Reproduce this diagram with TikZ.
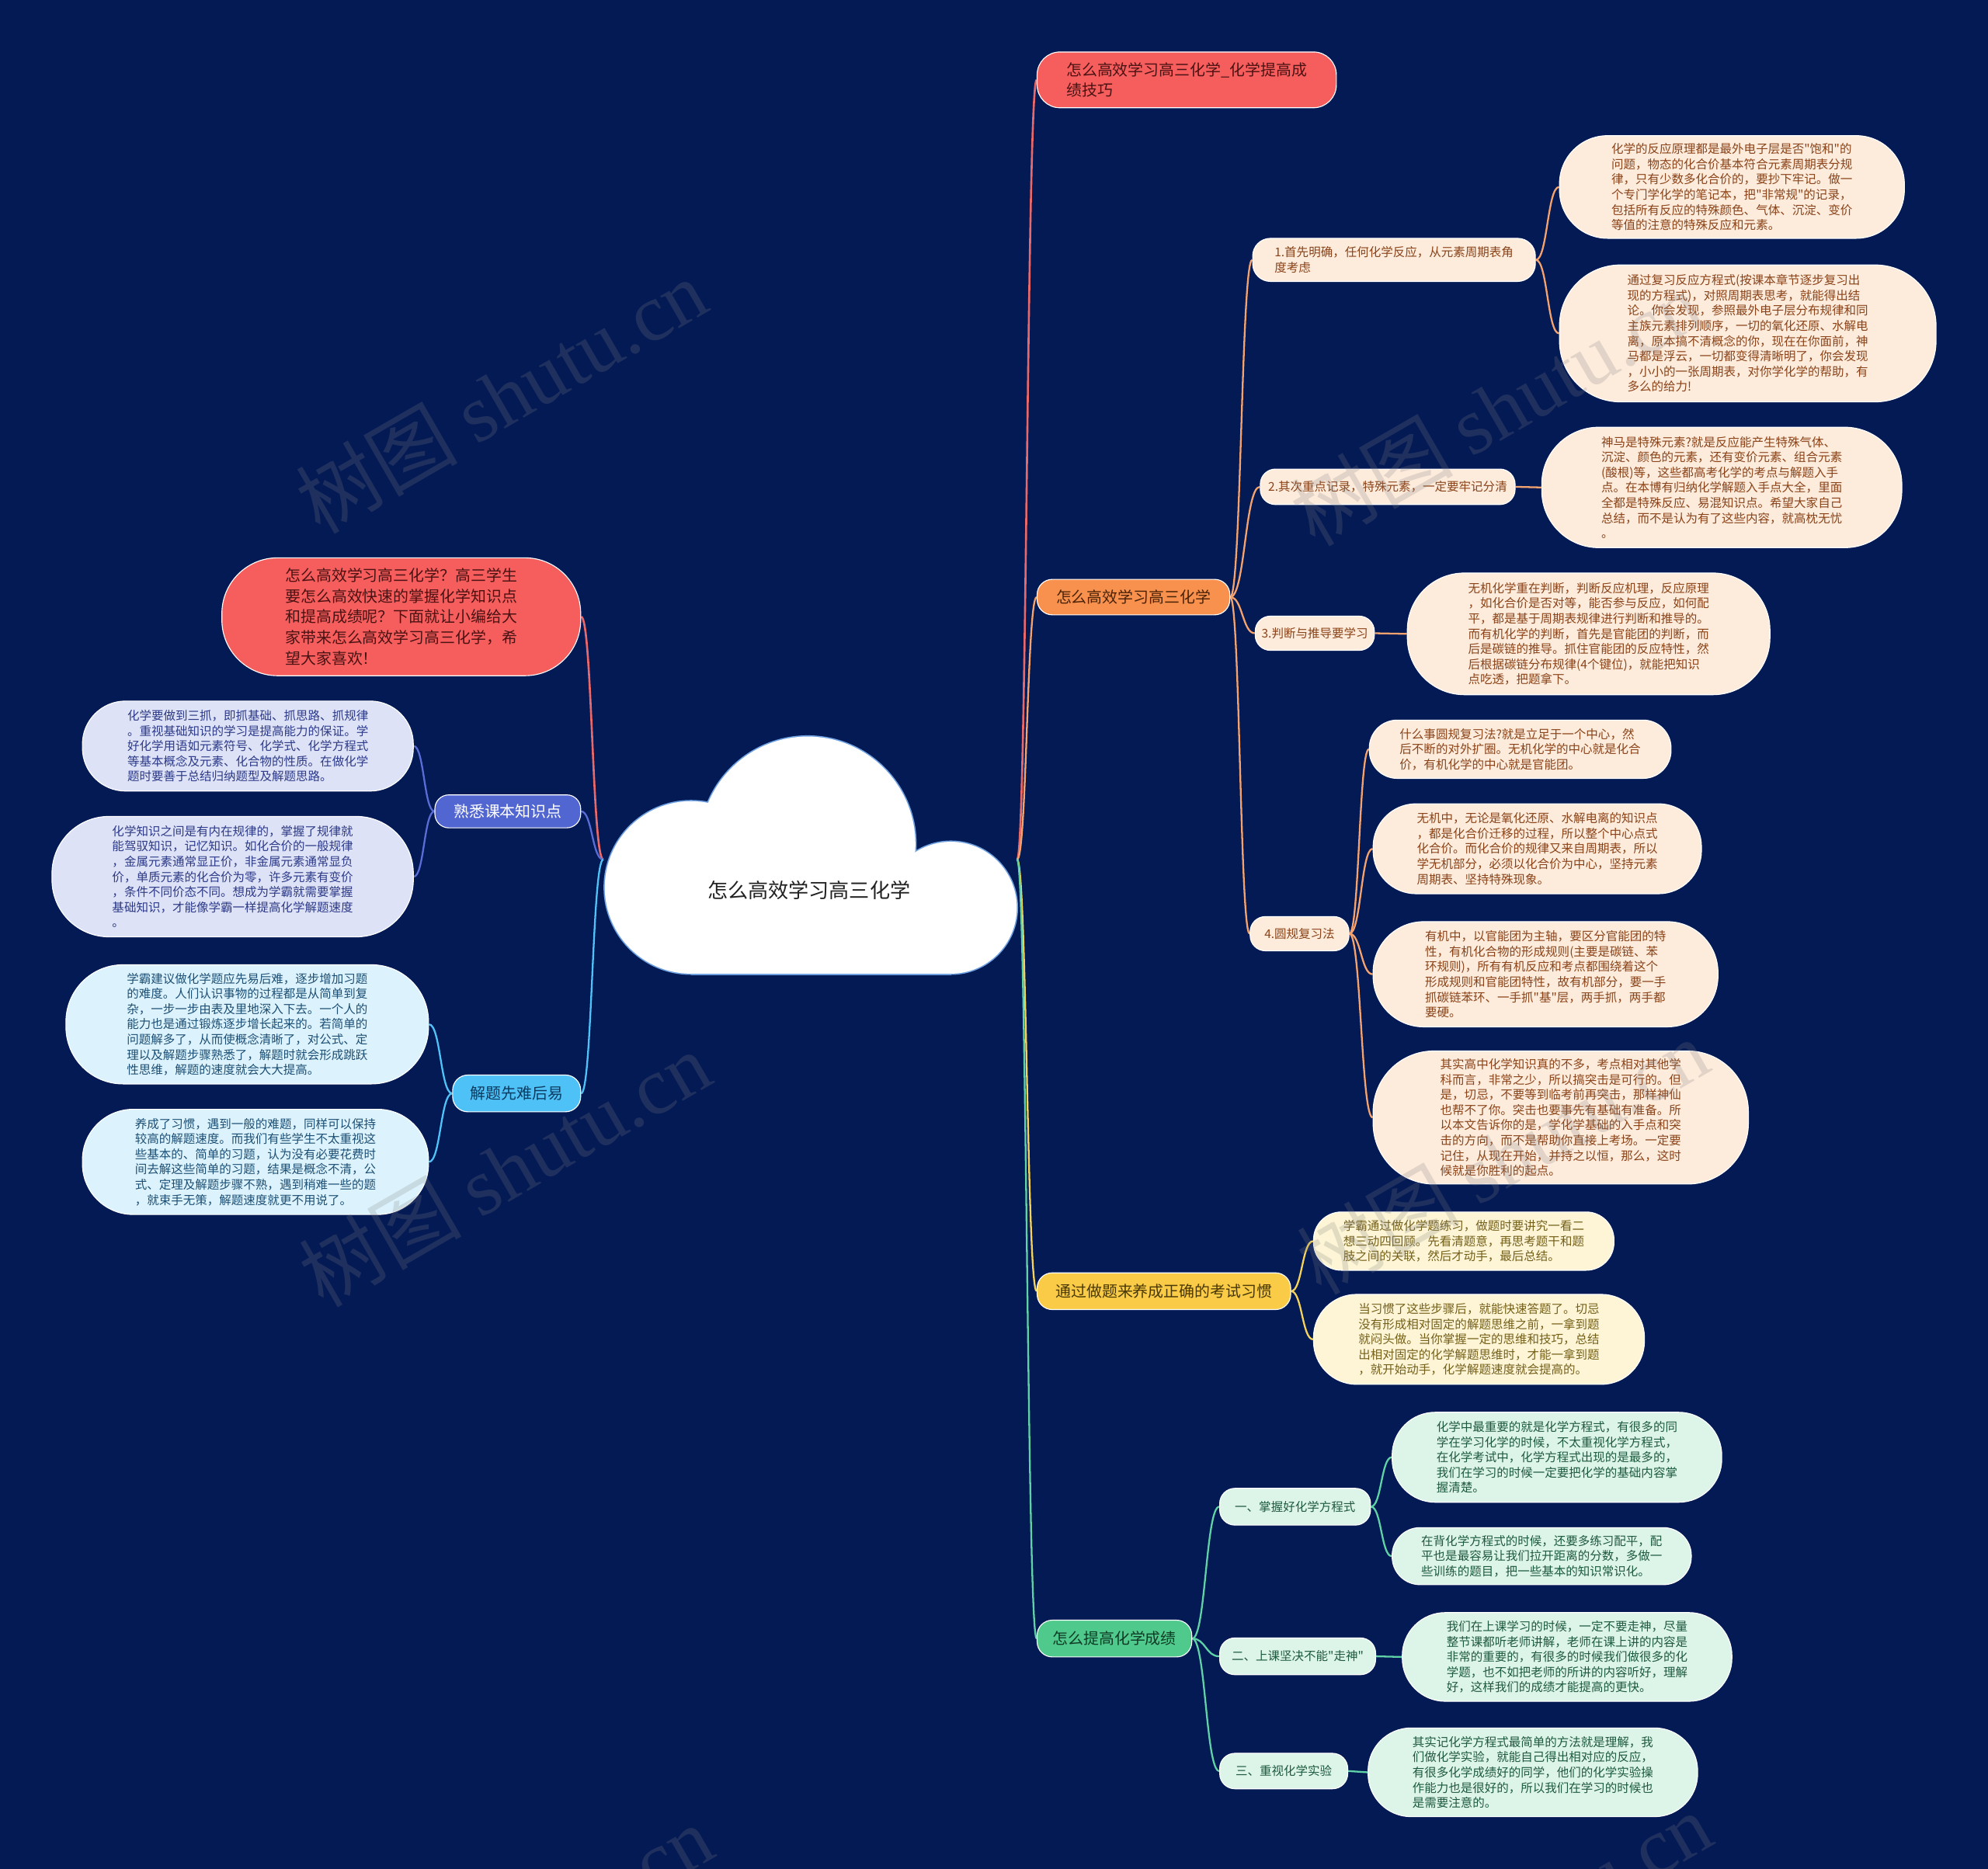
\documentclass[tikz,border=0pt]{standalone}
\usepackage{fontspec}
\setmainfont{Noto Sans CJK SC}[Ligatures=TeXOff]
\newfontfamily\wmlatin{Liberation Serif}
\usetikzlibrary{calc}
\pgfdeclarelayer{bglayer}
\pgfdeclarelayer{lines}
\pgfdeclarelayer{wmlayer}
\pgfsetlayers{bglayer,lines,main,wmlayer}
\definecolor{bgc}{HTML}{041A55}
\definecolor{redF}{HTML}{F65E5E}
\definecolor{redL}{HTML}{E9696B}
\definecolor{redT}{HTML}{4A1212}
\definecolor{orgF}{HTML}{F7914D}
\definecolor{orgL}{HTML}{F4A36E}
\definecolor{orgT}{HTML}{4A2208}
\definecolor{peachF}{HTML}{FDEBDC}
\definecolor{peachT}{HTML}{8A4318}
\definecolor{yelF}{HTML}{F9CB46}
\definecolor{yelL}{HTML}{F5D35A}
\definecolor{yelT}{HTML}{4A3906}
\definecolor{yleafF}{HTML}{FDF5D5}
\definecolor{yleafT}{HTML}{75601A}
\definecolor{grnF}{HTML}{4FCA8C}
\definecolor{grnL}{HTML}{5FD2A6}
\definecolor{grnT}{HTML}{0F3A25}
\definecolor{gleafF}{HTML}{DDF4E9}
\definecolor{gleafT}{HTML}{1E5A3E}
\definecolor{bluF}{HTML}{5266D2}
\definecolor{bluL}{HTML}{5A6CD5}
\definecolor{bleafF}{HTML}{DEE2F6}
\definecolor{bleafT}{HTML}{2C3A88}
\definecolor{lbF}{HTML}{4EC2F6}
\definecolor{lbL}{HTML}{4FC3F7}
\definecolor{lbT}{HTML}{0D3A60}
\definecolor{lbleafF}{HTML}{DCF3FD}
\definecolor{lbleafT}{HTML}{1D4F74}
\definecolor{cloudB}{HTML}{6FA0E0}
\definecolor{rootT}{HTML}{222222}
\newcommand\mmbig{\fontsize{12.2}{16}\selectfont}
\newcommand\mmsmall{\fontsize{9.5}{12}\selectfont}
\begin{document}
\begin{tikzpicture}[x=1pt,y=-1pt,
  nb/.style={rectangle, draw=white, line width=0.7pt, align=left, inner sep=0pt},
  mainnode/.style={nb, font=\mmbig},
  subnode/.style={nb, font=\mmsmall},
  oleaf/.style={subnode, fill=peachF, text=peachT},
  yleaf/.style={subnode, fill=yleafF, text=yleafT},
  gleaf/.style={subnode, fill=gleafF, text=gleafT},
  bleaf/.style={subnode, fill=bleafF, text=bleafT},
  lbleaf/.style={subnode, fill=lbleafF, text=lbleafT},
  mm/.style={to path={let \p1=(\tikztostart), \p2=(\tikztotarget), \n1={(\x1+\x2)/2} in .. controls ({\n1*1pt},\y1) and ({\n1*1pt},\y2) .. (\tikztotarget)}},
  lnR/.style={draw=redL, line width=1.6pt},
  lnO/.style={draw=orgL, line width=1.4pt},
  lnY/.style={draw=yelL, line width=1.4pt},
  lnG/.style={draw=grnL, line width=1.4pt},
  lnB/.style={draw=bluL, line width=1.4pt},
  lnLB/.style={draw=lbL, line width=1.4pt},
  wmk/.style={text=gray, opacity=0.22, font=\fontsize{64}{66}\selectfont, rotate=30, inner sep=0pt}
]
\begin{pgfonlayer}{bglayer}
\fill[bgc] (0,0) rectangle (1568,1474);
\end{pgfonlayer}
\useasboundingbox (0,0) rectangle (1568,1474);

% cloud
\draw[cloudB, line width=2pt] (637,666) circle[radius=85pt];
\draw[cloudB, line width=2pt] (545,700) circle[radius=68pt];
\draw[cloudB, line width=2pt] (750,716) circle[radius=52pt];
\draw[cloudB, line width=2pt] (545,768) -- (750,768);
\fill[white] (637,666) circle[radius=85pt];
\fill[white] (545,700) circle[radius=68pt];
\fill[white] (750,716) circle[radius=52pt];
\fill[white] (545,700) rectangle (750,768);
\node[inner sep=0pt, minimum width=326pt, minimum height=2pt] (root) at (639,678) {};
\node[font=\fontsize{16}{18}\selectfont, text=rootT] (rootlabel) at (638,702) {怎么高效学习高三化学};

% main branches
\node[mainnode, fill=redF, text=redT, minimum width=236pt, minimum height=44pt, rounded corners=18pt] (title) at (936,63) {怎么高效学习高三化学\_化学提高成\\绩技巧};
\node[mainnode, fill=orgF, text=orgT, minimum width=152pt, minimum height=28pt, rounded corners=12pt] (om) at (894,471) {怎么高效学习高三化学};
\node[mainnode, fill=yelF, text=yelT, minimum width=200pt, minimum height=29pt, rounded corners=12pt] (ym) at (918,1018.5) {通过做题来养成正确的考试习惯};
\node[mainnode, fill=grnF, text=grnT, minimum width=122pt, minimum height=29pt, rounded corners=12pt] (gm) at (879,1292.5) {怎么提高化学成绩};
\node[nb, font=\fontsize{12.2}{16.3}\selectfont, fill=redF, text=redT, minimum width=283pt, minimum height=93pt, rounded corners=44pt] (intro) at (316.5,486.5) {怎么高效学习高三化学？高三学生\\要怎么高效快速的掌握化学知识点\\和提高成绩呢？下面就让小编给大\\家带来怎么高效学习高三化学，希\\望大家喜欢！};
\node[mainnode, fill=bluF, text=white, minimum width=115pt, minimum height=26pt, rounded corners=11pt] (bm) at (400.5,640) {熟悉课本知识点};
\node[mainnode, fill=lbF, text=lbT, minimum width=101pt, minimum height=29pt, rounded corners=12pt] (lbm) at (407.5,862.5) {解题先难后易};

% orange subs
\node[oleaf, minimum width=223pt, minimum height=34pt, rounded corners=14pt] (s1) at (1099.5,205) {1.首先明确，任何化学反应，从元素周期表角\\度考虑};
\node[oleaf, minimum width=201pt, minimum height=28pt, rounded corners=12pt] (s2) at (1094.5,384) {2.其次重点记录，特殊元素，一定要牢记分清};
\node[oleaf, minimum width=94pt, minimum height=27pt, rounded corners=12pt] (s3) at (1037,499.5) {3.判断与推导要学习};
\node[oleaf, minimum width=78pt, minimum height=27pt, rounded corners=12pt] (s4) at (1025,736.5) {4.圆规复习法};

\node[oleaf, minimum width=272pt, minimum height=81pt, rounded corners=38pt] (a1) at (1366,147.5) {化学的反应原理都是最外电子层是否"饱和"的\\问题，物态的化合价基本符合元素周期表分规\\律，只有少数多化合价的，要抄下牢记。做一\\个专门学化学的笔记本，把"非常规"的记录，\\包括所有反应的特殊颜色、气体、沉淀、变价\\等值的注意的特殊反应和元素。};
\node[oleaf, minimum width=297pt, minimum height=108pt, rounded corners=48pt] (a2) at (1378.5,263) {通过复习反应方程式(按课本章节逐步复习出\\现的方程式)，对照周期表思考，就能得出结\\论。你会发现，参照最外电子层分布规律和同\\主族元素排列顺序，一切的氧化还原、水解电\\离，原本搞不清概念的你，现在在你面前，神\\马都是浮云，一切都变得清晰明了，你会发现\\，小小的一张周期表，对你学化学的帮助，有\\多么的给力!};
\node[oleaf, minimum width=284pt, minimum height=95pt, rounded corners=45pt] (b1) at (1358,384.5) {神马是特殊元素?就是反应能产生特殊气体、\\沉淀、颜色的元素，还有变价元素、组合元素\\(酸根)等，这些都高考化学的考点与解题入手\\点。在本博有归纳化学解题入手点大全，里面\\全都是特殊反应、易混知识点。希望大家自己\\总结，而不是认为有了这些内容，就高枕无忧\\。};
\node[oleaf, minimum width=286pt, minimum height=96pt, rounded corners=45pt] (c1) at (1253,500) {无机化学重在判断，判断反应机理，反应原理\\，如化合价是否对等，能否参与反应，如何配\\平，都是基于周期表规律进行判断和推导的。\\而有机化学的判断，首先是官能团的判断，而\\后是碳链的推导。抓住官能团的反应特性，然\\后根据碳链分布规律(4个键位)，就能把知识\\点吃透，把题拿下。};
\node[oleaf, minimum width=238pt, minimum height=46pt, rounded corners=22pt] (d1) at (1199,591) {什么事圆规复习法?就是立足于一个中心，然\\后不断的对外扩圈。无机化学的中心就是化合\\价，有机化学的中心就是官能团。};
\node[oleaf, minimum width=259pt, minimum height=71pt, rounded corners=34pt] (d2) at (1212.5,669.5) {无机中，无论是氧化还原、水解电离的知识点\\，都是化合价迁移的过程，所以整个中心点式\\化合价。而化合价的规律又来自周期表，所以\\学无机部分，必须以化合价为中心，坚持元素\\周期表、坚持特殊现象。};
\node[oleaf, minimum width=272pt, minimum height=83pt, rounded corners=40pt] (d3) at (1219,768.5) {有机中，以官能团为主轴，要区分官能团的特\\性，有机化合物的形成规则(主要是碳链、苯\\环规则)，所有有机反应和考点都围绕着这个\\形成规则和官能团特性，故有机部分，要一手\\抓碳链苯环、一手抓"基"层，两手抓，两手都\\要硬。};
\node[oleaf, minimum width=296pt, minimum height=105pt, rounded corners=48pt] (d4) at (1231,881.5) {其实高中化学知识真的不多，考点相对其他学\\科而言，非常之少，所以搞突击是可行的。但\\是，切忌，不要等到临考前再突击，那样神仙\\也帮不了你。突击也要事先有基础有准备。所\\以本文告诉你的是，学化学基础的入手点和突\\击的方向，而不是帮助你直接上考场。一定要\\记住，从现在开始，并持之以恒，那么，这时\\候就是你胜利的起点。};

% yellow leaves
\node[yleaf, minimum width=237pt, minimum height=46pt, rounded corners=22pt] (y1) at (1154.5,979) {学霸通过做化学题练习，做题时要讲究一看二\\想三动四回顾。先看清题意，再思考题干和题\\肢之间的关联，然后才动手，最后总结。};
\node[yleaf, minimum width=261pt, minimum height=71pt, rounded corners=34pt] (y2) at (1166.5,1056.5) {当习惯了这些步骤后，就能快速答题了。切忌\\没有形成相对固定的解题思维之前，一拿到题\\就闷头做。当你掌握一定的思维和技巧，总结\\出相对固定的化学解题思维时，才能一拿到题\\，就开始动手，化学解题速度就会提高的。};

% green subs and leaves
\node[gleaf, minimum width=119pt, minimum height=29pt, rounded corners=12pt] (g1) at (1021.5,1188.5) {一、掌握好化学方程式};
\node[gleaf, minimum width=123pt, minimum height=29pt, rounded corners=12pt] (g2) at (1023.5,1306.5) {二、上课坚决不能"走神"};
\node[gleaf, minimum width=101pt, minimum height=28pt, rounded corners=12pt] (g3) at (1012.5,1397) {三、重视化学实验};
\node[gleaf, minimum width=260pt, minimum height=71pt, rounded corners=34pt] (g1a) at (1228,1149.5) {化学中最重要的就是化学方程式，有很多的同\\学在学习化学的时候，不太重视化学方程式，\\在化学考试中，化学方程式出现的是最多的，\\我们在学习的时候一定要把化学的基础内容掌\\握清楚。};
\node[gleaf, minimum width=236pt, minimum height=45pt, rounded corners=22pt] (g1b) at (1216,1227.5) {在背化学方程式的时候，还要多练习配平，配\\平也是最容易让我们拉开距离的分数，多做一\\些训练的题目，把一些基本的知识常识化。};
\node[gleaf, minimum width=260pt, minimum height=70pt, rounded corners=34pt] (g2a) at (1236,1307) {我们在上课学习的时候，一定不要走神，尽量\\整节课都听老师讲解，老师在课上讲的内容是\\非常的重要的，有很多的时候我们做很多的化\\学题，也不如把老师的所讲的内容听好，理解\\好，这样我们的成绩才能提高的更快。};
\node[gleaf, minimum width=260pt, minimum height=70pt, rounded corners=34pt] (g3a) at (1209,1398) {其实记化学方程式最简单的方法就是理解，我\\们做化学实验，就能自己得出相对应的反应，\\有很多化学成绩好的同学，他们的化学实验操\\作能力也是很好的，所以我们在学习的时候也\\是需要注意的。};

% left leaves
\node[bleaf, minimum width=261pt, minimum height=71pt, rounded corners=34pt] (bl1) at (195.5,588.5) {化学要做到三抓，即抓基础、抓思路、抓规律\\。重视基础知识的学习是提高能力的保证。学\\好化学用语如元素符号、化学式、化学方程式\\等基本概念及元素、化合物的性质。在做化学\\题时要善于总结归纳题型及解题思路。};
\node[bleaf, minimum width=285pt, minimum height=95pt, rounded corners=45pt] (bl2) at (183.5,691.5) {化学知识之间是有内在规律的，掌握了规律就\\能驾驭知识，记忆知识。如化合价的一般规律\\，金属元素通常显正价，非金属元素通常显负\\价，单质元素的化合价为零，许多元素有变价\\，条件不同价态不同。想成为学霸就需要掌握\\基础知识，才能像学霸一样提高化学解题速度\\。};
\node[lbleaf, minimum width=286pt, minimum height=94pt, rounded corners=45pt] (lb1) at (195,808) {学霸建议做化学题应先易后难，逐步增加习题\\的难度。人们认识事物的过程都是从简单到复\\杂，一步一步由表及里地深入下去。一个人的\\能力也是通过锻炼逐步增长起来的。若简单的\\问题解多了，从而使概念清晰了，对公式、定\\理以及解题步骤熟悉了，解题时就会形成跳跃\\性思维，解题的速度就会大大提高。};
\node[lbleaf, minimum width=273pt, minimum height=83pt, rounded corners=40pt] (lb2) at (201.5,916.5) {养成了习惯，遇到一般的难题，同样可以保持\\较高的解题速度。而我们有些学生不太重视这\\些基本的、简单的习题，认为没有必要花费时\\间去解这些简单的习题，结果是概念不清，公\\式、定理及解题步骤不熟，遇到稍难一些的题\\，就束手无策，解题速度就更不用说了。};

% connectors
\begin{pgfonlayer}{lines}
\draw[lnR] (root.east) to[mm] (title.west);
\draw[lnO] (root.east) to[mm] (om.west);
\draw[lnY] (root.east) to[mm] (ym.west);
\draw[lnG] (root.east) to[mm] (gm.west);
\draw[lnR] (root.west) to[mm] (intro.east);
\draw[lnB] (root.west) to[mm] (bm.east);
\draw[lnLB] (root.west) to[mm] (lbm.east);

\draw[lnO] (om.east) to[mm] (s1.west);
\draw[lnO] (om.east) to[mm] (s2.west);
\draw[lnO] (om.east) to[mm] (s3.west);
\draw[lnO] (om.east) to[mm] (s4.west);
\draw[lnO] (s1.east) to[mm] (a1.west);
\draw[lnO] (s1.east) to[mm] (a2.west);
\draw[lnO] (s2.east) to[mm] (b1.west);
\draw[lnO] (s3.east) to[mm] (c1.west);
\draw[lnO] (s4.east) to[mm] (d1.west);
\draw[lnO] (s4.east) to[mm] (d2.west);
\draw[lnO] (s4.east) to[mm] (d3.west);
\draw[lnO] (s4.east) to[mm] (d4.west);

\draw[lnY] (ym.east) to[mm] (y1.west);
\draw[lnY] (ym.east) to[mm] (y2.west);

\draw[lnG] (gm.east) to[mm] (g1.west);
\draw[lnG] (gm.east) to[mm] (g2.west);
\draw[lnG] (gm.east) to[mm] (g3.west);
\draw[lnG] (g1.east) to[mm] (g1a.west);
\draw[lnG] (g1.east) to[mm] (g1b.west);
\draw[lnG] (g2.east) to[mm] (g2a.west);
\draw[lnG] (g3.east) to[mm] (g3a.west);

\draw[lnB] (bm.west) to[mm] (bl1.east);
\draw[lnB] (bm.west) to[mm] (bl2.east);
\draw[lnLB] (lbm.west) to[mm] (lb1.east);
\draw[lnLB] (lbm.west) to[mm] (lb2.east);
\end{pgfonlayer}

% watermarks
\begin{pgfonlayer}{wmlayer}
\node[wmk] (wm1) at (395,312) {树图 {\wmlatin shutu.cn}};
\node[wmk] (wm2) at (1180,322) {树图 {\wmlatin shutu.cn}};
\node[wmk] (wm3) at (398,922) {树图 {\wmlatin shutu.cn}};
\node[wmk] (wm4) at (1185,912) {树图 {\wmlatin shutu.cn}};
\node[wmk] (wm5) at (400,1532) {树图 {\wmlatin shutu.cn}};
\node[wmk] (wm6) at (1188,1522) {树图 {\wmlatin shutu.cn}};
\end{pgfonlayer}
\end{tikzpicture}
\end{document}
